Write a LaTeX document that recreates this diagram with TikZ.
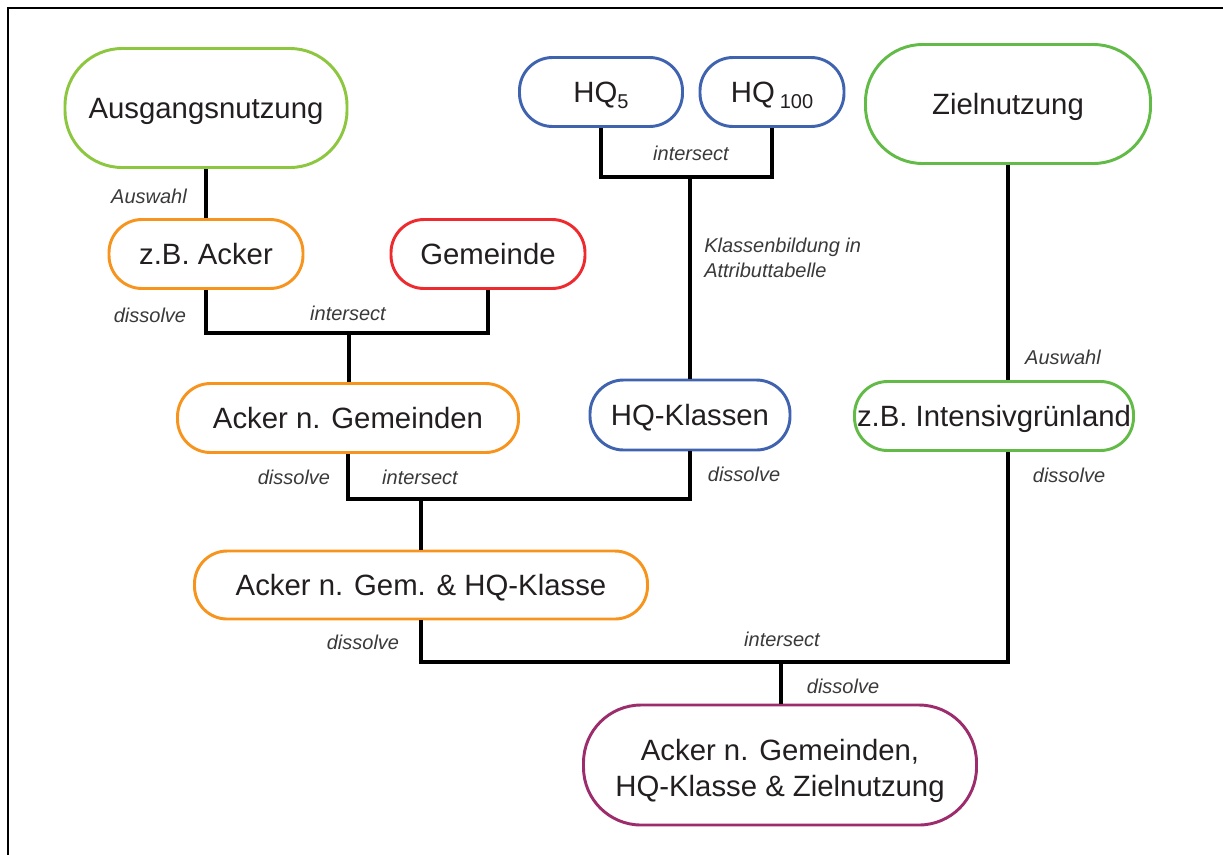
\documentclass[tikz,border=0pt]{standalone}
\usepackage{fontspec}
\setmainfont{Liberation Sans}
\definecolor{cgreenA}{HTML}{8DC63F}
\definecolor{cgreenB}{HTML}{62BB46}
\definecolor{corange}{HTML}{F7941E}
\definecolor{cred}{HTML}{EE2A2F}
\definecolor{cblue}{HTML}{4063B0}
\definecolor{cpurple}{HTML}{9C2C6C}
\definecolor{ctxt}{HTML}{231F20}
\definecolor{clbl}{HTML}{3A3A3A}
\newcommand{\hqsub}[1]{\raisebox{-0.4ex}{\fontsize{15}{15}\selectfont #1}}
\begin{document}
\begin{tikzpicture}[x=0.75pt,y=-0.75pt,
  pill/.style n args={3}{draw=#3, line width=2.2pt, text=ctxt,
    minimum width=#1*0.75pt, minimum height=#2*0.75pt,
    rounded corners=#2*0.36pt, inner sep=0pt, align=center,
    font=\fontsize{22}{27}\selectfont},
  oneline/.style={text height=15.8pt, text depth=0pt},
  conn/.style={draw=black, line width=2.3pt},
  frameline/.style={draw=black, line width=2.2pt},
  lbl/.style={text=clbl, font=\fontsize{15}{18.75}\selectfont\itshape, inner sep=0pt}]
\useasboundingbox (0,0) rectangle (1223,854);
\fill[white] (0,0) rectangle (1223,854);
\draw[frameline] (8,860) -- (8,8) -- (1230,8);

% nodes
\node[pill={282}{119}{cgreenA}, oneline] (ausg) at (206,108) {Ausgangsnutzung};
\node[pill={163}{69}{cblue}, oneline] (hq5) at (601,92) {HQ\hqsub{5}};
\node[pill={144}{69}{cblue}, oneline] (hq100) at (772,92) {HQ\,\hqsub{100}};
\node[pill={285}{119}{cgreenB}, oneline] (ziel) at (1008,104) {Zielnutzung};
\node[pill={194}{69}{corange}, oneline] (acker) at (206,254) {z.B. Acker};
\node[pill={194}{69}{cred}, oneline] (gem) at (488,254) {Gemeinde};
\node[pill={341}{69}{corange}, oneline] (agem) at (348,418) {Acker n. Gemeinden};
\node[pill={200}{70}{cblue}, oneline] (hqk) at (690,415) {HQ-Klassen};
\node[pill={279}{69}{cgreenB}, oneline] (igr) at (994,416) {z.B. Intensivgrünland};
\node[pill={453}{68}{corange}, oneline] (agh) at (421,585) {Acker n. Gem. \& HQ-Klasse};
\node[pill={393}{120}{cpurple}] (fin) at (780,765)
  {\raisebox{-9.7pt}[0pt][0pt]{\begin{tabular}{@{}c@{}}Acker n. Gemeinden,\\HQ-Klasse \& Zielnutzung\end{tabular}}};

% junctions
\coordinate (j1) at (349,333);
\coordinate (jhq) at (690,177);
\coordinate (j2) at (421,499);
\coordinate (j3) at (781,662);

% connectors
\draw[conn] (ausg.south) -- (acker.north);
\draw[conn] (acker.south) |- (j1) -| (gem.south);
\draw[conn] (j1) -- (j1 |- agem.north);
\draw[conn] (hq5.south) |- (jhq) -| (hq100.south);
\draw[conn] (jhq) -- (hqk.north);
\draw[conn] (agem.south) |- (j2) -| (hqk.south);
\draw[conn] (j2) -- (j2 |- agh.north);
\draw[conn] (ziel.south) -- (ziel.south |- igr.north);
\draw[conn] (agh.south) |- (j3) -| (ziel.south |- igr.south);
\draw[conn] (j3) -- (j3 |- fin.north);

% labels
\node[lbl] (l1) at (149,196) {Auswahl};
\node[lbl] (l2) at (150,315) {dissolve};
\node[lbl] (l3) at (348,313) {intersect};
\node[lbl] (l4) at (691,153) {intersect};
\node[lbl, align=left, anchor=west] (l5) at (704,257.5) {Klassenbildung in\\Attributtabelle};
\node[lbl] (l6) at (294,477) {dissolve};
\node[lbl] (l7) at (420,477) {intersect};
\node[lbl] (l8) at (744,474) {dissolve};
\node[lbl] (l9) at (1063,357) {Auswahl};
\node[lbl] (l10) at (1069,475) {dissolve};
\node[lbl] (l11) at (363,642) {dissolve};
\node[lbl] (l12) at (782,639) {intersect};
\node[lbl] (l13) at (843,686) {dissolve};
\end{tikzpicture}
\end{document}
